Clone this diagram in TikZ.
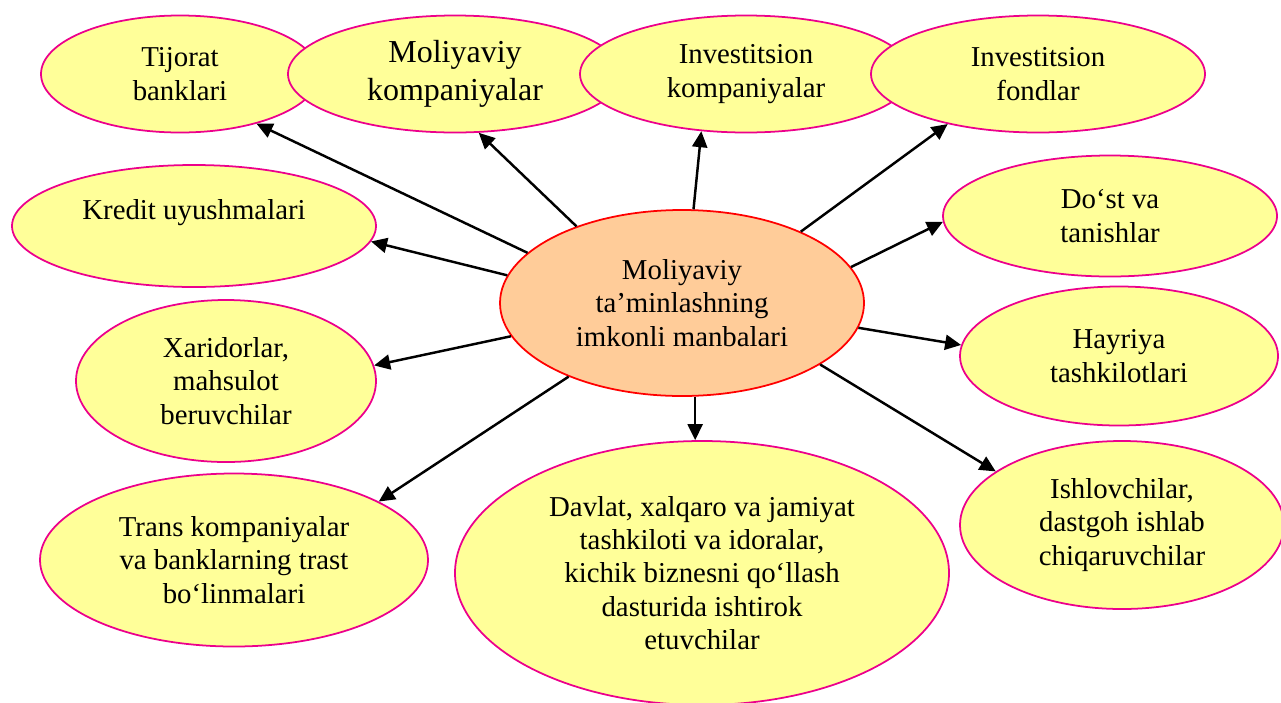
\documentclass[tikz,border=0pt]{standalone}
\usepackage{fontspec}
\setmainfont{Liberation Serif}
\usepackage{tikz}
\usetikzlibrary{shapes,arrows.meta,positioning}
\definecolor{sourceYellow}{RGB}{255,255,153}
\definecolor{centrePeach}{RGB}{255,204,153}
\tikzset{
  sourceEllipse/.style={
    ellipse,
    draw=magenta,
    fill=sourceYellow,
    line width=1pt,
    inner sep=0pt,
    align=center,
    font=\fontsize{16.4}{19}\selectfont
  },
  centreEllipse/.style={
    ellipse,
    draw=red,
    fill=centrePeach,
    line width=1pt,
    inner sep=0pt,
    align=center,
    font=\fontsize{16.4}{19}\selectfont
  },
  arrowLine/.style={
    -{Triangle[length=3.2mm,width=3mm]},
    line width=1.4pt
  }
}

\begin{document}
\begin{tikzpicture}[x=0.2mm,y=-0.2mm]
    \useasboundingbox (0,0) rectangle (1281,702);

    % top row
    \node[sourceEllipse, minimum width=55.6mm, minimum height=23.4mm] (tijorat) at (180,74) {Tijorat\\banklari};
    \node[sourceEllipse, minimum width=66.8mm, minimum height=23.4mm, font=\fontsize{18.2}{21.5}\selectfont] (molKomp) at (455,74) {Moliyaviy\\kompaniyalar};
    \node[sourceEllipse, minimum width=66.4mm, minimum height=23.4mm] (invKomp) at (746,74) {Investitsion\\kompaniyalar};
    \node[sourceEllipse, minimum width=66.8mm, minimum height=23.4mm] (invFond) at (1038,74) {Investitsion\\fondlar};

    % left side
    \node[sourceEllipse, minimum width=72.8mm, minimum height=24.4mm] (kredit) at (194,226) {Kredit uyushmalari\\\mbox{}};
    \node[sourceEllipse, minimum width=60mm, minimum height=32.4mm] (xarid) at (226,381) {Xaridorlar,\\mahsulot\\beruvchilar};
    \node[sourceEllipse, minimum width=77.6mm, minimum height=34.6mm] (trans) at (234,560) {Trans kompaniyalar\\va banklarning trast\\bo‘linmalari};

    % bottom
    \node[sourceEllipse, minimum width=98.8mm, minimum height=52.8mm] (davlat) at (702,573) {Davlat, xalqaro va jamiyat\\tashkiloti va idoralar,\\kichik biznesni qo‘llash\\dasturida ishtirok\\etuvchilar};

    % right side
    \node[sourceEllipse, minimum width=66.8mm, minimum height=24.2mm] (dost) at (1110,216) {Do‘st va\\tanishlar};
    \node[sourceEllipse, minimum width=63.6mm, minimum height=27.8mm] (hayriya) at (1119,356) {Hayriya\\tashkilotlari};
    \node[sourceEllipse, minimum width=64.8mm, minimum height=33.6mm] (ishlov) at (1122,525) {Ishlovchilar,\\dastgoh ishlab\\chiqaruvchilar};

    % centre
    \node[centreEllipse, minimum width=72.8mm, minimum height=37.2mm] (markaz) at (682,303) {Moliyaviy\\ta’minlashning\\imkonli manbalari};

    \draw[arrowLine] (markaz.162.75) -- (tijorat.-33.3);
    \draw[arrowLine] (markaz.144.4) -- (molKomp.-68.4);
    \draw[arrowLine] (markaz.83) -- (invKomp.-128.5);
    \draw[arrowLine] (markaz.31.25) -- (invFond.-151.4);
    \draw[arrowLine] (markaz.12.1) -- (dost.182.4);
    \draw[arrowLine] (markaz.171.5) -- (kredit.-5.3);
    \draw[arrowLine] (markaz.-169.5) -- (xarid.6.8);
    \draw[arrowLine] (markaz.-147.95) -- (trans.22.2);
    \draw[arrowLine] (markaz.-82.6) -- (markaz.-82.6 |- davlat.north);
    \draw[arrowLine] (markaz.-8.3) -- (hayriya.176.8);
    \draw[arrowLine] (markaz.-24.2) -- (ishlov.157.1);
\end{tikzpicture}
\end{document}
